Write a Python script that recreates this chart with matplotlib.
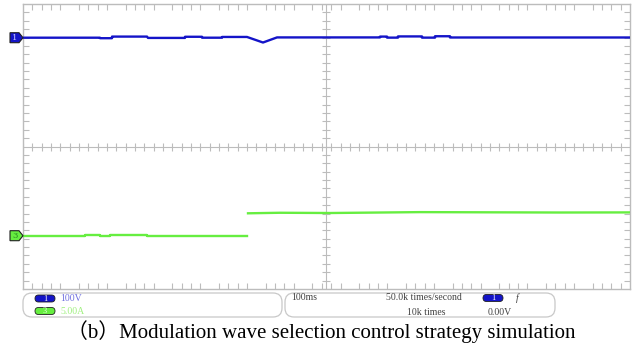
import numpy as np
import matplotlib
matplotlib.use("Agg")
import matplotlib.pyplot as plt
from matplotlib.patches import FancyBboxPatch, Polygon

# ---- trace data (time in ms, level in screen divisions) ----
ch1_t = [0, 164.9, 164.9, 190.6, 190.6, 265.6, 267.7, 347, 347, 383.4, 383.4,
         426.2, 426.2, 479.7, 514, 544, 636, 764.6, 764.6, 779.6, 779.6, 803.1,
         803.1, 854.5, 854.5, 882.4, 882.4, 914.5, 914.5, 1300]
ch1_v = [3.054, 3.054, 3.040, 3.040, 3.085, 3.085, 3.048, 3.048, 3.080, 3.080, 3.054,
         3.054, 3.075, 3.075, 2.919, 3.062, 3.062, 3.062, 3.085, 3.085, 3.056, 3.056,
         3.090, 3.090, 3.056, 3.056, 3.095, 3.095, 3.060, 3.060]

# current before the switch-over
ch3a_t = [0, 122, 122, 132.8, 132.8, 164.9, 164.9, 186.3, 186.3, 265.6, 265.6,
          287, 287, 464.7, 464.7, 479.7]
ch3a_v = [-2.504, -2.504, -2.515, -2.515, -2.496, -2.496, -2.518, -2.518, -2.490, -2.490, -2.507,
          -2.507, -2.512, -2.512, -2.525, -2.525]
# current after the switch-over
ch3b_t = [481.9, 550.4, 657.5, 850.2, 957.3, 1150, 1300]
ch3b_v = [-1.875, -1.860, -1.867, -1.842, -1.846, -1.853, -1.850]

ch1_ground = 3.054
ch3_ground = -2.504

W, H = 635, 347
fig = plt.figure(figsize=(W / 100, H / 100), dpi=100)
ax = fig.add_axes([23 / W, 1 - 289 / H, 607 / W, 285 / H])

grid_c = "#bcbcbc"
ax.set_xlim(0, 1300)
ax.set_ylim(-4, 4)
ax.set_xticks(np.arange(0, 1301, 100))
ax.set_xticks(np.arange(0, 1301, 20), minor=True)
ax.set_yticks(np.arange(-4, 4.01, 1))
ax.set_yticks(np.linspace(-4, 4, 35), minor=True)
ax.tick_params(which="both", direction="in", top=True, right=True, color=grid_c,
               labelbottom=False, labelleft=False, width=0.8)
ax.tick_params(which="major", length=0)
ax.tick_params(which="minor", length=4)
for s in ax.spines.values():
    s.set_color(grid_c)
    s.set_linewidth(1.0)

# centre cross with small ticks
ax.axhline(0, color=grid_c, lw=0.8, zorder=1)
ax.axvline(650, color=grid_c, lw=0.8, zorder=1)
xt = np.arange(0, 1301, 20)
ax.plot(xt, np.zeros_like(xt), ls="none", marker="|", ms=6, color=grid_c, mew=0.8, zorder=1)
yt = np.linspace(-4, 4, 35)
ax.plot(np.full_like(yt, 650), yt, ls="none", marker="_", ms=6, color=grid_c, mew=0.8, zorder=1)

blue = "#1414c8"
green = "#66ee40"
ax.plot(ch1_t, ch1_v, color=blue, lw=1.7, zorder=3)
ax.plot(ch3a_t, ch3a_v, color=green, lw=1.7, zorder=3)
ax.plot(ch3b_t, ch3b_v, color=green, lw=1.7, zorder=3)

# overlay in pixel coordinates for markers, info panel and caption
ov = fig.add_axes([0, 0, 1, 1], zorder=5)
ov.set_xlim(0, W)
ov.set_ylim(H, 0)
ov.axis("off")


def to_px(t, v):
    x, y = ax.transData.transform((t, v))
    return x, H - y


def ch_marker(v, fc, label, tc):
    _, py = to_px(0, v)
    pts = [(10, py - 5), (19, py - 5), (23, py), (19, py + 5), (10, py + 5)]
    ov.add_patch(Polygon(pts, closed=True, fc=fc, ec="#202020", lw=0.8))
    ov.text(15, py + 0.5, label, ha="center", va="center", fontsize=6, color=tc,
            family="DejaVu Serif")


ch_marker(ch1_ground, blue, "1", "#c8c8ff")
ch_marker(ch3_ground, green, "3", "#2a8a20")

# info panel
box_c = "#c8c8c8"
ov.add_patch(FancyBboxPatch((23, 293), 259, 24, boxstyle="round,pad=0,rounding_size=9",
                            fc="white", ec=box_c, lw=0.9))
ov.add_patch(FancyBboxPatch((285, 293), 270, 24, boxstyle="round,pad=0,rounding_size=9",
                            fc="white", ec=box_c, lw=0.9))


def pill(x, y, fc, label, tc):
    ov.add_patch(FancyBboxPatch((x, y - 3.5), 20, 7, boxstyle="round,pad=0,rounding_size=3.5",
                                fc=fc, ec="#202020", lw=0.6))
    ov.text(x + 10, y + 0.3, label, ha="center", va="center", fontsize=6, color=tc,
            family="Liberation Serif")


serif = "Liberation Serif"
pill(35, 298.5, blue, "1", "white")
ov.text(60, 298.5, "100V", fontsize=7, color="#7070e0", va="center", family=serif)
pill(35, 311, green, "3", "#e8ffe0")
ov.text(60, 311, "5.00A", fontsize=7, color="#a0f080", va="center", family=serif)

ov.text(291, 298, "100ms", fontsize=7, color="#404040", va="center", family=serif)
ov.text(424, 298, "50.0k times/second", fontsize=7, color="#404040", va="center",
        ha="center", family=serif)
pill(483, 298, blue, "1", "white")
ov.text(516, 298, "f", fontsize=7, color="#404040", va="center", style="italic", family=serif)
ov.text(426, 312.5, "10k times", fontsize=7, color="#404040", va="center", ha="center",
        family=serif)
ov.text(500, 312.5, "0.00V", fontsize=7, color="#404040", va="center", ha="center",
        family=serif)

ov.text(321, 332, "（b）Modulation wave selection control strategy simulation",
        ha="center", va="center", fontsize=15, color="black",
        family=["Liberation Serif", "Noto Sans CJK SC"])

fig.savefig("out.png", dpi=100)
